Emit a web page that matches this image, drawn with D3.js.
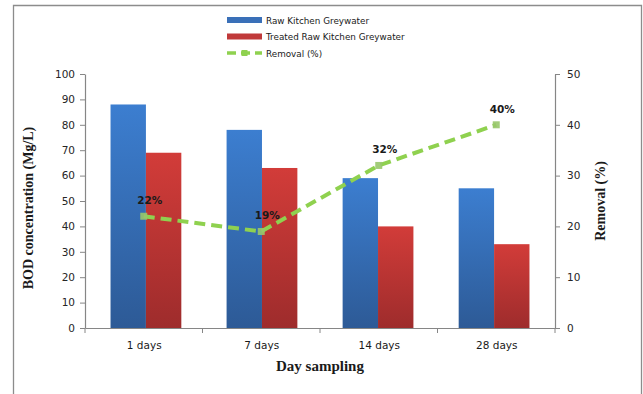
<!DOCTYPE html>
<html>
<head>
<meta charset="utf-8">
<script src="https://cdn.jsdelivr.net/npm/d3@7/dist/d3.min.js"></script>
<style>
  html, body { margin: 0; padding: 0; background: #fff; }
  svg { display: block; }
</style>
</head>
<body>
<svg id="chart" width="643" height="394"></svg>
<script>
// Sampling days and BOD measurements
const categories = ["1 days", "7 days", "14 days", "28 days"];
const rawBOD = [88, 78, 59, 55];
const treatedBOD = [69, 63, 40, 33];
const removalPct = [22, 19, 32, 40];
const leftTicks = [0, 10, 20, 30, 40, 50, 60, 70, 80, 90, 100];
const rightTicks = [0, 10, 20, 30, 40, 50];

const svg = d3.select("#chart");
const W = 643, H = 394;
const m = { left: 85, right: 555, top: 74, bottom: 328 };

// Outer frame
svg.append("path")
  .attr("d", `M13.5,${H} V5.5 H641.5 V${H}`)
  .attr("fill", "none").attr("stroke", "#8c8c8c").attr("stroke-width", 1.3);

const defs = svg.append("defs");
function grad(id, top, bottom) {
  const g = defs.append("linearGradient").attr("id", id)
    .attr("x1", 0).attr("y1", 0).attr("x2", 0).attr("y2", 1);
  g.append("stop").attr("offset", "0%").attr("stop-color", top);
  g.append("stop").attr("offset", "100%").attr("stop-color", bottom);
}
grad("gBlue", "#3c7ed0", "#2d5a96");
grad("gRed", "#d23c39", "#9e2c2c");

const x = d3.scaleBand().domain(categories).range([m.left, m.right]).paddingInner(0.39).paddingOuter(0.22);
const x1 = d3.scaleBand().domain(["raw", "treated"]).range([0, x.bandwidth()]);
const y = d3.scaleLinear().domain([0, 100]).range([m.bottom, m.top]);
const y2 = d3.scaleLinear().domain([0, 50]).range([m.bottom, m.top]);
const xc = d3.scalePoint().domain(categories).range([m.left, m.right]).padding(0.5);

// Bars
const groups = svg.append("g").selectAll("g").data(categories).join("g")
  .attr("transform", d => `translate(${x(d)},0)`);
groups.append("rect")
  .attr("x", x1("raw")).attr("width", x1.bandwidth())
  .attr("y", (d, i) => y(rawBOD[i])).attr("height", (d, i) => y(0) - y(rawBOD[i]))
  .attr("fill", "url(#gBlue)");
groups.append("rect")
  .attr("x", x1("treated")).attr("width", x1.bandwidth())
  .attr("y", (d, i) => y(treatedBOD[i])).attr("height", (d, i) => y(0) - y(treatedBOD[i]))
  .attr("fill", "url(#gRed)");

const axisColor = "#868686";
const tickFont = "'DejaVu Sans', Verdana, sans-serif";

// Left axis
const gl = svg.append("g").attr("transform", `translate(${m.left},0)`)
  .call(d3.axisLeft(y).tickValues(leftTicks).tickSize(5).tickSizeOuter(0).tickPadding(5));
// Right axis
const gr = svg.append("g").attr("transform", `translate(${m.right},0)`)
  .call(d3.axisRight(y2).tickValues(rightTicks).tickSize(5).tickSizeOuter(0).tickPadding(7));
// Bottom axis with ticks between categories
const gb = svg.append("g").attr("transform", `translate(0,${m.bottom})`)
  .call(d3.axisBottom(xc).tickSize(0).tickPadding(14));
const bounds = d3.range(categories.length + 1).map(i => m.left + i * (m.right - m.left) / categories.length);
gb.selectAll(".sep").data(bounds).join("line").attr("class", "sep")
  .attr("x1", d => d).attr("x2", d => d).attr("y1", 0).attr("y2", 5)
  .attr("stroke", axisColor);

[gl, gr, gb].forEach(g => {
  g.selectAll(".domain").attr("stroke", axisColor).attr("stroke-width", 1.2);
  g.selectAll(".tick line").attr("stroke", axisColor);
  g.selectAll("text").attr("font-family", tickFont).attr("font-size", 10.5).attr("fill", "#262626");
});
gb.selectAll("text").attr("font-size", 10.5).attr("fill", "#1a1a1a");

// Removal line
const green = "#8fd14f";
const line = d3.line().x((d, i) => xc(categories[i])).y(d => y2(d));
svg.append("path").datum(removalPct)
  .attr("d", line).attr("fill", "none")
  .attr("stroke", green).attr("stroke-width", 4)
  .attr("stroke-dasharray", "11,6");
svg.append("g").selectAll("rect").data(removalPct).join("rect")
  .attr("x", (d, i) => xc(categories[i]) - 3.5).attr("y", d => y2(d) - 3.5)
  .attr("width", 7).attr("height", 7)
  .attr("fill", "#98c66a").attr("opacity", 0.9);

// Removal labels
svg.append("g").selectAll("text").data(removalPct).join("text")
  .attr("x", (d, i) => xc(categories[i]) + 6)
  .attr("y", d => y2(d) - 12)
  .attr("text-anchor", "middle")
  .attr("font-family", tickFont).attr("font-size", 10.5).attr("font-weight", "bold")
  .attr("fill", "#1a1a1a")
  .text(d => d + "%");

// Axis titles
const serif = "'Liberation Serif', 'Times New Roman', serif";
svg.append("text").attr("x", 320).attr("y", 371).attr("text-anchor", "middle")
  .attr("font-family", serif).attr("font-weight", "bold").attr("font-size", 15)
  .attr("fill", "#1a1a1a").text("Day sampling");
svg.append("text").attr("transform", `translate(33,208) rotate(-90)`)
  .attr("text-anchor", "middle")
  .attr("font-family", serif).attr("font-weight", "bold").attr("font-size", 14)
  .attr("fill", "#1a1a1a").text("BOD concentration (Mg/L)");
svg.append("text").attr("transform", `translate(605,${(m.top + m.bottom) / 2}) rotate(-90)`)
  .attr("text-anchor", "middle")
  .attr("font-family", serif).attr("font-weight", "bold").attr("font-size", 14)
  .attr("fill", "#1a1a1a").text("Removal (%)");

// Legend
const legend = [
  { label: "Raw Kitchen Greywater", type: "bar", color: "#3a70b8" },
  { label: "Treated Raw Kitchen Greywater", type: "bar", color: "#c0393a" },
  { label: "Removal (%)", type: "line", color: green }
];
const lg = svg.append("g");
legend.forEach((d, i) => {
  const ly = 20 + i * 16.5;
  if (d.type === "bar") {
    lg.append("rect").attr("x", 227).attr("y", ly - 3).attr("width", 35).attr("height", 6).attr("fill", d.color);
  } else {
    lg.append("line").attr("x1", 227).attr("x2", 262).attr("y1", ly).attr("y2", ly)
      .attr("stroke", d.color).attr("stroke-width", 3.5).attr("stroke-dasharray", "9,5");
    lg.append("rect").attr("x", 241.5).attr("y", ly - 3).attr("width", 6).attr("height", 6).attr("fill", d.color);
  }
  lg.append("text").attr("x", 266).attr("y", ly + 3.5)
    .attr("font-family", tickFont).attr("font-size", 8.8).attr("fill", "#1a1a1a")
    .text(d.label);
});
</script>
</body>
</html>
